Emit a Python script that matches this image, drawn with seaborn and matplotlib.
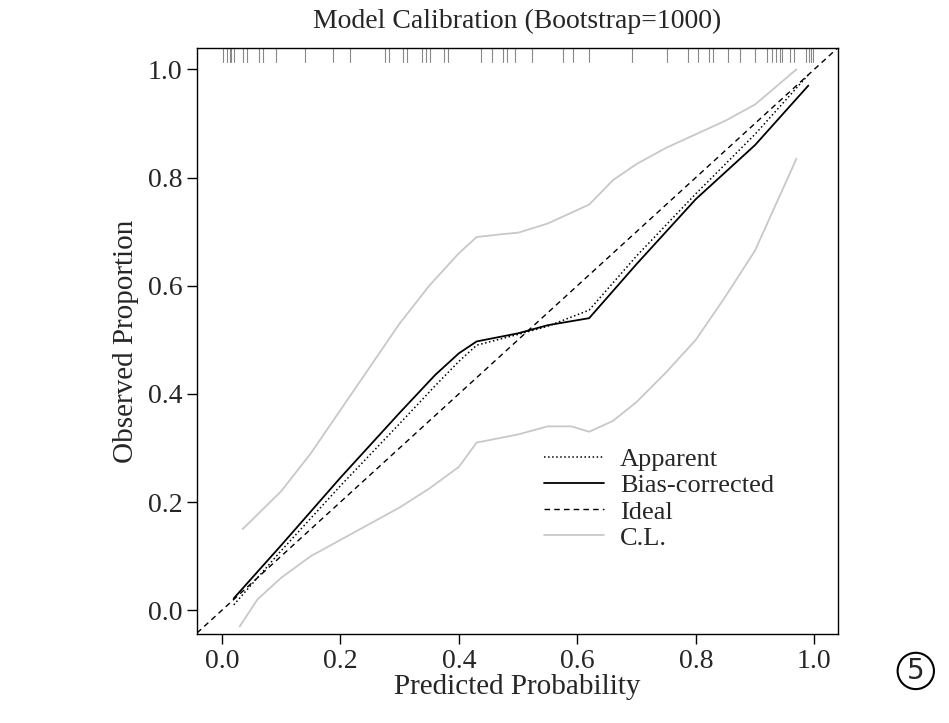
import matplotlib
matplotlib.use("Agg")
import matplotlib.pyplot as plt
import seaborn as sns
import numpy as np

sns.set_theme(style="white")
plt.rcParams['font.family'] = ['Liberation Serif', 'DejaVu Serif']

app_x = [0.02, 0.1, 0.2, 0.3, 0.36, 0.4, 0.43, 0.5, 0.55, 0.62, 0.7, 0.8, 0.9, 0.99]
app_y = [0.01, 0.11, 0.23, 0.345, 0.415, 0.46, 0.49, 0.51, 0.525, 0.555, 0.655, 0.77, 0.88, 0.99]
bc_x = [0.02, 0.1, 0.2, 0.3, 0.36, 0.4, 0.43, 0.5, 0.55, 0.62, 0.7, 0.8, 0.9, 0.99]
bc_y = [0.022, 0.12, 0.245, 0.365, 0.435, 0.475, 0.497, 0.512, 0.527, 0.54, 0.64, 0.76, 0.86, 0.97]
up_x = [0.035, 0.1, 0.15, 0.2, 0.25, 0.3, 0.35, 0.4, 0.43, 0.47, 0.5, 0.55, 0.6, 0.62, 0.66, 0.7, 0.75, 0.8, 0.85, 0.9, 0.97]
up_y = [0.15, 0.22, 0.29, 0.37, 0.45, 0.53, 0.6, 0.66, 0.69, 0.695, 0.698, 0.715, 0.74, 0.75, 0.795, 0.825, 0.855, 0.88, 0.905, 0.935, 1.0]
lo_x = [0.03, 0.06, 0.1, 0.15, 0.2, 0.3, 0.35, 0.4, 0.43, 0.5, 0.55, 0.59, 0.62, 0.66, 0.7, 0.75, 0.8, 0.85, 0.9, 0.97]
lo_y = [-0.03, 0.02, 0.06, 0.1, 0.13, 0.19, 0.225, 0.265, 0.31, 0.325, 0.34, 0.34, 0.33, 0.35, 0.385, 0.44, 0.5, 0.58, 0.665, 0.835]
rug = [0.002, 0.009, 0.013, 0.016, 0.020, 0.036, 0.043, 0.062, 0.069, 0.092, 0.140, 0.187,
       0.216, 0.275, 0.282, 0.305, 0.312, 0.337, 0.344, 0.351, 0.375, 0.382, 0.437, 0.456,
       0.474, 0.481, 0.495, 0.523, 0.576, 0.593, 0.620, 0.692, 0.752, 0.787, 0.803, 0.822,
       0.829, 0.854, 0.874, 0.900, 0.921, 0.928, 0.935, 0.942, 0.945, 0.959, 0.966, 0.986,
       0.991, 0.994, 0.998]
ticks = [0.0, 0.2, 0.4, 0.6, 0.8, 1.0]

fig = plt.figure(figsize=(9.49, 7.23), dpi=100)
ax = fig.add_axes([0.2076, 0.123, 0.6754, 0.811])
ax.set_xlim(-0.042, 1.04)
ax.set_ylim(-0.044, 1.04)

ax.plot([-0.042, 1.04], [-0.042, 1.04], ls=(0, (4, 3)), color='black', lw=1, label='Ideal', zorder=2)
sns.lineplot(x=app_x, y=app_y, ax=ax, color='black', lw=1.1, ls=':', label='Apparent', sort=False)
sns.lineplot(x=bc_x, y=bc_y, ax=ax, color='black', lw=1.3, label='Bias-corrected', sort=False)
sns.lineplot(x=up_x, y=up_y, ax=ax, color='#c8c8c8', lw=1.3, label='C.L.', sort=False)
sns.lineplot(x=lo_x, y=lo_y, ax=ax, color='#c8c8c8', lw=1.3, sort=False)
for r in rug:
    ax.plot([r, r], [1.013, 1.04], color='#888888', lw=0.8)

h, l = ax.get_legend_handles_labels()
order = [l.index(n) for n in ['Apparent', 'Bias-corrected', 'Ideal', 'C.L.']]
ax.legend([h[i] for i in order], [l[i] for i in order], loc='upper left',
          bbox_to_anchor=(0.52, 0.34), frameon=False, fontsize=19,
          handlelength=2.3, labelspacing=0.1, borderpad=0, handletextpad=0.6)

for s in ax.spines.values():
    s.set_color('black'); s.set_linewidth(1)
ax.set_xticks(ticks); ax.set_yticks(ticks)
ax.set_xticklabels([f"{t:.1f}" for t in ticks], fontsize=20)
ax.set_yticklabels([f"{t:.1f}" for t in ticks], fontsize=20)
ax.tick_params(direction='out', length=7, width=1, color='black', bottom=True, left=True)
ax.set_xlabel('Predicted Probability', fontsize=21, labelpad=0)
ax.set_ylabel('Observed Proportion', fontsize=21, labelpad=6)
ax.set_title('Model Calibration (Bootstrap=1000)', fontsize=20, pad=14)

fig.text(0.965, 0.072, '5', fontsize=20, ha='center', va='center', family='DejaVu Sans',
         bbox=dict(boxstyle='circle,pad=0.15', fc='white', ec='black', lw=1.5))
fig.savefig('out.png', dpi=100)
